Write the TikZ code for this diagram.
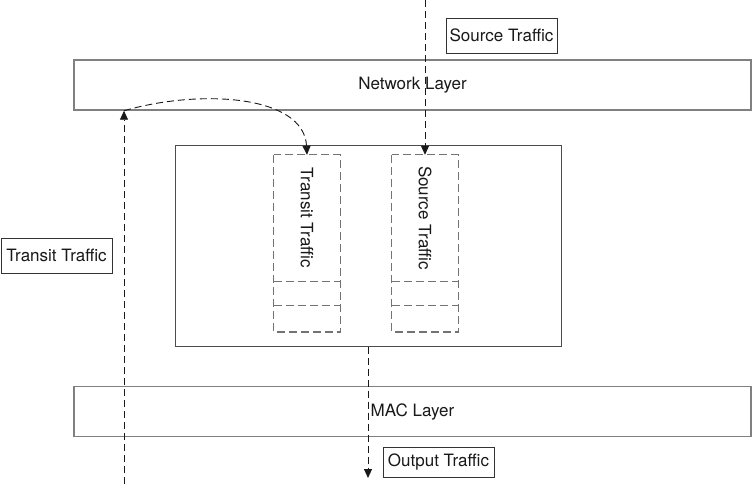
\documentclass[tikz,border=0pt]{standalone}
\usepackage{fontspec}
\setmainfont{TeX Gyre Heros}
\usepackage{tikz}
\usetikzlibrary{
  arrows.meta,
  positioning
}
\newcommand{\trafficfont}{\fontsize{17}{20}\selectfont}
\tikzset{
  layerbox/.style={draw=black!50, line width=1.5pt, fill=white,
    minimum width=677pt, minimum height=50pt, inner sep=0pt,
    font=\trafficfont, text=black!90},
  bufferbox/.style={draw=black!70, line width=1pt,
    minimum width=386pt, minimum height=200pt, inner sep=0pt},
  queuebox/.style={minimum width=66pt, inner sep=0pt,
    font=\trafficfont, text=black!90},
  queueline/.style={draw=black!55, line width=1.3pt,
    dash pattern=on 8pt off 4pt},
  labelbox/.style={draw=black!80, line width=0.8pt,
    minimum width=111pt, minimum height=35pt, inner sep=0pt,
    font=\trafficfont, text=black!90},
  flow/.style={-{Triangle[length=9pt,width=8pt]}, line width=0.9pt,
    dash pattern=on 7pt off 4pt, black!90},
}

\begin{document}
\begin{tikzpicture}[x=1pt, y=-1pt]
  \useasboundingbox (0,0) rectangle (752,484);

  % The two layers
  \node[layerbox] (net) at (412.5,85) {Network Layer};
  \node[layerbox] (mac) at (412.5,411.5) {MAC Layer};

  % Buffer with the two queues
  \node[bufferbox] (buf) at (368,246) {};
  \node[queuebox, minimum height=126pt] (trq) at (307,218)
    {\rotatebox{-90}{Transit Traffic}};
  \node[queuebox, minimum height=24pt, below=0pt of trq] (trqa) {};
  \node[queuebox, minimum height=26pt, below=0pt of trqa] (trqb) {};
  \node[queuebox, minimum height=126pt] (srq) at (425,218)
    {\rotatebox{-90}{Source Traffic}};
  \node[queuebox, minimum height=24pt, below=0pt of srq] (srqa) {};
  \node[queuebox, minimum height=26pt, below=0pt of srqa] (srqb) {};
  \foreach \q in {trq, srq} {
    \draw[queueline] (\q.north west) rectangle (\q b.south east);
    \draw[queueline] (\q a.north west) -- (\q a.north east);
    \draw[queueline] (\q b.north west) -- (\q b.north east);
  }

  % Traffic labels
  \node[labelbox] (srclbl) at (501.5,35.5) {Source Traffic};
  \node[labelbox] (trlbl) at (56.5,255.5) {Transit Traffic};
  \node[labelbox, minimum height=30pt] (outlbl) at (438.5,462) {Output Traffic};

  % Free ends of the flows
  \coordinate (srctop) at (425,0);
  \coordinate (trbottom) at (124,484);
  \coordinate (outend) at (368,478);

  % Flows
  \draw[flow] (srctop) -- (srq.north);
  \draw[flow] (trbottom) -- (trbottom |- net.south);
  \draw[flow] (trbottom |- net.south)
    .. controls +(76,-22) and +(-3,-60) .. (trq.north);
  \draw[flow] (outend |- buf.south) -- (outend);
\end{tikzpicture}
\end{document}
